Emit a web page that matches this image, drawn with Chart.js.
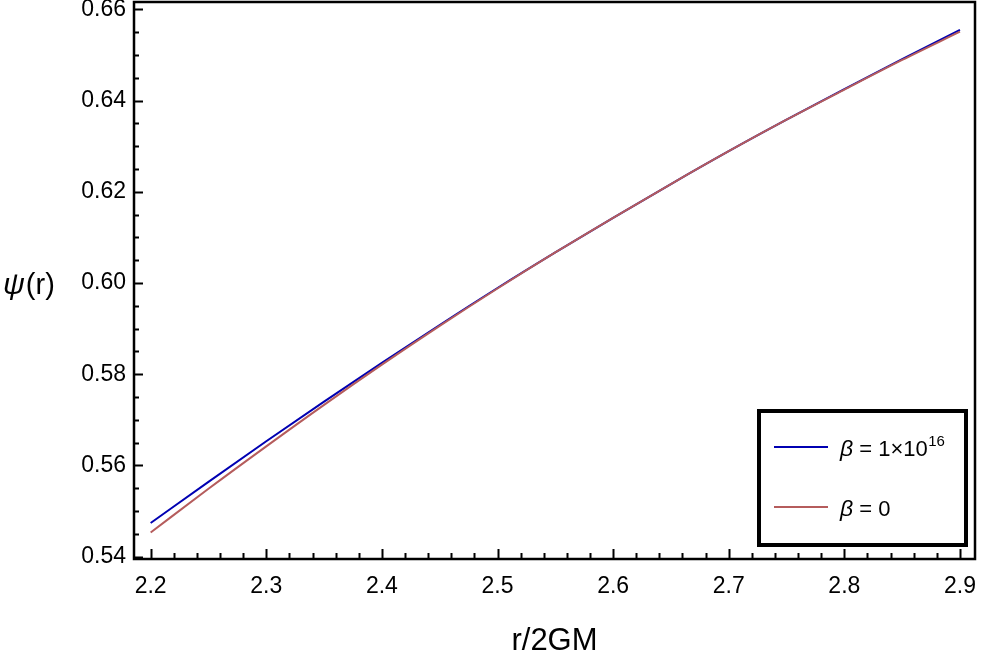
<!DOCTYPE html>
<html>
<head>
<meta charset="utf-8">
<script src="https://cdn.jsdelivr.net/npm/chart.js@4.4.1/dist/chart.umd.min.js"></script>
<style>
  html, body { margin: 0; padding: 0; background: #fff; }
  #wrap { width: 981px; height: 654px; position: relative; }
</style>
</head>
<body>
<div id="wrap"><canvas id="c" width="981" height="654"></canvas></div>
<script>
// ---- data ----
const rValues = [2.2, 2.25, 2.3, 2.35, 2.4, 2.45, 2.5, 2.55, 2.6, 2.65, 2.7, 2.75, 2.8, 2.85, 2.9];
const psiBeta1e16 = [0.5474, 0.5564, 0.5653, 0.5740, 0.5825, 0.5908, 0.5989, 0.6067, 0.6143, 0.6217, 0.6289, 0.6358, 0.6425, 0.6491, 0.6555];
const psiBeta0    = [0.5453, 0.5549, 0.5642, 0.5733, 0.5821, 0.5906, 0.5988, 0.6067, 0.6143, 0.6217, 0.6289, 0.6358, 0.6424, 0.6489, 0.6551];
const seriesLabels = ["β = 1×10^16", "β = 0"];
const xTickValues = [2.2, 2.3, 2.4, 2.5, 2.6, 2.7, 2.8, 2.9];
const yTickValues = [0.54, 0.56, 0.58, 0.60, 0.62, 0.64, 0.66];
const xMinorStep = 0.02;
const yMinorStep = 0.005;
const xTitle = "r/2GM";
const yTitleSymbol = "ψ";
const yTitleRest = "(r)";

const FONT = "'Liberation Sans', Arial, sans-serif";

function toXY(xs, ys) { return xs.map((x, i) => ({ x: x, y: ys[i] })); }

const framePlugin = {
  id: 'frame',
  afterDraw(chart) {
    const ctx = chart.ctx;
    const a = chart.chartArea;
    const xs = chart.scales.x, ys = chart.scales.y;
    ctx.save();
    ctx.strokeStyle = '#000';
    ctx.lineWidth = 2.5;
    ctx.strokeRect(a.left, a.top, a.right - a.left, a.bottom - a.top);

    // inward ticks on left and bottom axes
    ctx.lineWidth = 2;
    ctx.beginPath();
    const yMin = yTickValues[0], yMax = yTickValues[yTickValues.length - 1];
    const nY = Math.round((yMax - yMin) / yMinorStep);
    for (let i = 0; i <= nY; i++) {
      const v = yMin + i * yMinorStep;
      const major = i % 4 === 0;
      const py = Math.round(ys.getPixelForValue(v)) + 0.5;
      ctx.moveTo(a.left, py);
      ctx.lineTo(a.left + (major ? 9 : 5), py);
    }
    const xMin = xTickValues[0], xMax = xTickValues[xTickValues.length - 1];
    const nX = Math.round((xMax - xMin) / xMinorStep);
    for (let i = 0; i <= nX; i++) {
      const v = xMin + i * xMinorStep;
      const major = i % 5 === 0;
      const px = Math.round(xs.getPixelForValue(v)) + 0.5;
      ctx.moveTo(px, a.bottom);
      ctx.lineTo(px, a.bottom - (major ? 10 : 6));
    }
    ctx.stroke();

    // axis titles
    ctx.fillStyle = '#000';
    ctx.textBaseline = 'alphabetic';
    ctx.textAlign = 'center';
    ctx.font = "31px " + FONT;
    ctx.fillText(xTitle, (a.left + a.right) / 2, 650);

    ctx.textAlign = 'left';
    ctx.font = "italic 30px " + FONT;
    ctx.fillText(yTitleSymbol, 3, 294);
    const w = ctx.measureText(yTitleSymbol).width;
    ctx.font = "29px " + FONT;
    ctx.fillText(yTitleRest, 3 + w + 1, 294);

    // legend box
    const lx = 759, ly = 411, lw = 207, lh = 134;
    ctx.fillStyle = '#fff';
    ctx.fillRect(lx, ly, lw, lh);
    ctx.lineWidth = 4;
    ctx.strokeStyle = '#000';
    ctx.strokeRect(lx, ly, lw, lh);
    const rowY = [447, 507];
    chart.data.datasets.forEach((ds, i) => {
      ctx.strokeStyle = ds.borderColor;
      ctx.lineWidth = 2;
      ctx.beginPath();
      ctx.moveTo(774, rowY[i]);
      ctx.lineTo(828, rowY[i]);
      ctx.stroke();
      const parts = ds.label.split('^');
      const base = parts[0];
      let x = 840;
      const by = rowY[i] + 9;
      ctx.fillStyle = '#000';
      ctx.textAlign = 'left';
      ctx.font = "italic 23px " + FONT;
      const sym = base.charAt(0);
      ctx.fillText(sym, x, by);
      x += ctx.measureText(sym).width;
      ctx.font = "22px " + FONT;
      const rest = base.slice(1);
      ctx.fillText(rest, x, by);
      x += ctx.measureText(rest).width;
      if (parts.length > 1) {
        ctx.font = "15px " + FONT;
        ctx.fillText(parts[1], x + 0.5, by - 10);
      }
    });
    ctx.restore();
  }
};

new Chart(document.getElementById('c'), {
  type: 'line',
  data: {
    datasets: [
      { label: seriesLabels[0], data: toXY(rValues, psiBeta1e16), borderColor: 'rgb(0,0,178)', borderWidth: 2, pointRadius: 0, cubicInterpolationMode: 'monotone', fill: false, order: 1 },
      { label: seriesLabels[1], data: toXY(rValues, psiBeta0), borderColor: 'rgb(181,92,92)', borderWidth: 2, pointRadius: 0, cubicInterpolationMode: 'monotone', fill: false, order: 0 }
    ]
  },
  options: {
    responsive: false,
    animation: false,
    devicePixelRatio: 1,
    layout: { padding: { left: 0, right: 6, top: 2, bottom: 0 } },
    plugins: { legend: { display: false }, tooltip: { enabled: false } },
    scales: {
      x: {
        type: 'linear', min: 2.1856, max: 2.913,
        grid: { display: false, drawTicks: false },
        border: { display: false },
        afterBuildTicks(scale) { scale.ticks = xTickValues.map(v => ({ value: v })); },
        afterFit(scale) { scale.height = 95; scale.paddingLeft = 0; scale.paddingRight = 0; },
        ticks: { color: '#000', font: { family: FONT, size: 23 }, padding: 14, maxRotation: 0, autoSkip: false, callback: v => Number(v).toFixed(1) }
      },
      y: {
        type: 'linear', min: 0.5395, max: 0.6616,
        grid: { display: false, drawTicks: false },
        border: { display: false },
        afterBuildTicks(scale) { scale.ticks = yTickValues.map(v => ({ value: v })); },
        afterFit(scale) { scale.width = 134; scale.paddingTop = 0; scale.paddingBottom = 0; },
        ticks: { color: '#000', font: { family: FONT, size: 23 }, padding: 8, autoSkip: false, callback: v => Number(v).toFixed(2) }
      }
    }
  },
  plugins: [framePlugin]
});
</script>
</body>
</html>
